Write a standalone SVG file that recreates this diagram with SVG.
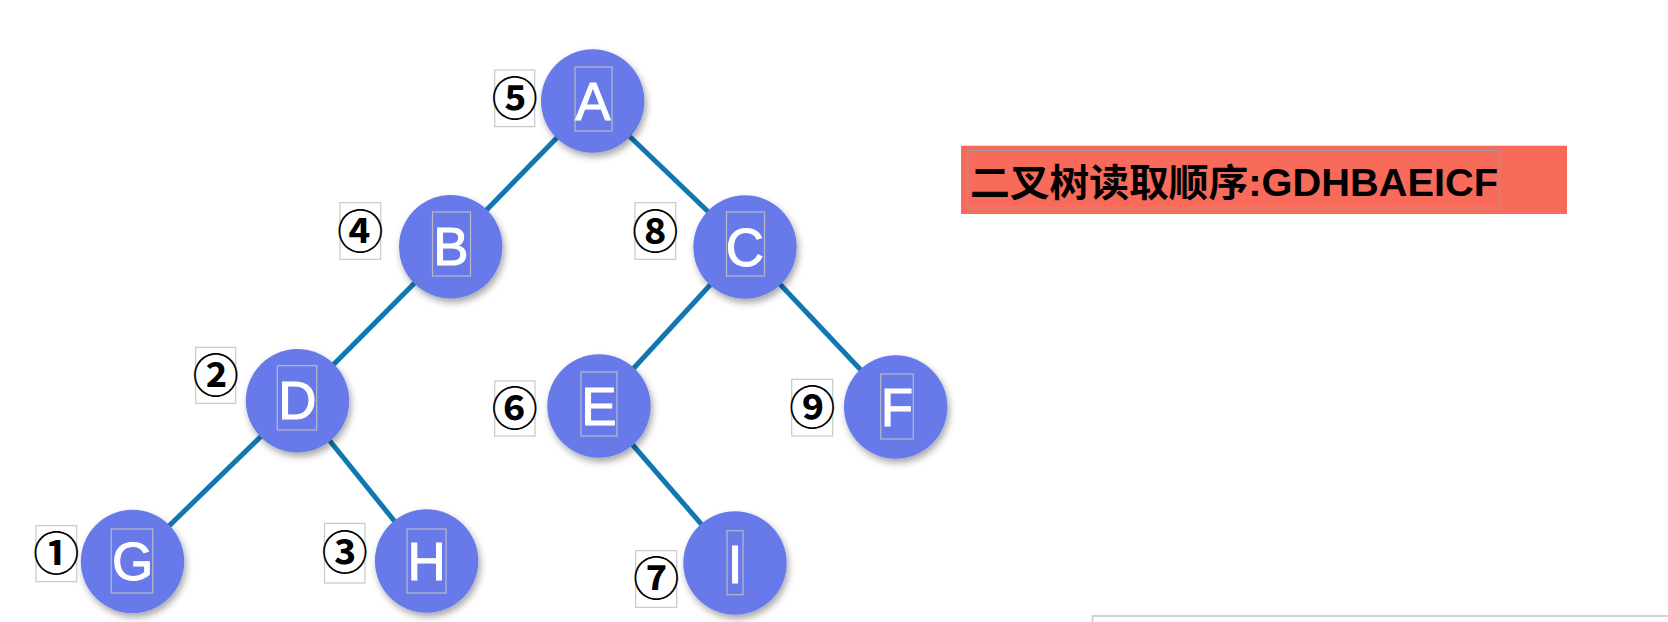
<svg xmlns="http://www.w3.org/2000/svg" width="1668" height="622" viewBox="0 0 1668 622">
<defs>
<filter id="sh" x="-30%" y="-30%" width="160%" height="160%">
<feDropShadow dx="2" dy="4" stdDeviation="3.5" flood-color="#000" flood-opacity="0.35"/>
</filter>
</defs>
<style>
.edge{stroke:#1177B2;stroke-width:5;fill:none}
.node circle{fill:#677AE9;filter:url(#sh)}
.tbox{fill:none;stroke:#b8b8c8;stroke-width:1.2}
.letter{font-family:"Liberation Sans",Arial,sans-serif;font-size:53px;fill:#fff;text-anchor:middle;stroke:#fff;stroke-width:1}
.lbox{fill:#fff;stroke:#c8c8c8;stroke-width:1.2}
.num{font-family:"Noto Sans CJK SC","DejaVu Sans",sans-serif;font-size:46px;font-weight:bold;fill:#000;text-anchor:middle}
.title{font-family:"Liberation Sans","Noto Sans CJK SC",sans-serif;font-weight:bold;font-size:38px;fill:#000}
</style>
<rect width="1668" height="622" fill="#fff"/>
<g id="connectors">
<line class="edge" x1="592.7" y1="101" x2="450.7" y2="246.7"/>
<line class="edge" x1="592.7" y1="101" x2="745" y2="247"/>
<line class="edge" x1="450.7" y1="246.7" x2="297.5" y2="400.8"/>
<line class="edge" x1="745" y1="247" x2="599" y2="406"/>
<line class="edge" x1="745" y1="247" x2="895.7" y2="407"/>
<line class="edge" x1="297.5" y1="400.8" x2="132.5" y2="561.5"/>
<line class="edge" x1="297.5" y1="400.8" x2="426.6" y2="561"/>
<line class="edge" x1="599" y1="406" x2="735" y2="563"/>
</g>
<g id="node-A" class="node">
<circle cx="592.7" cy="101" r="51.7"/>
<rect class="tbox" x="575" y="67" width="37" height="64"/>
<text class="letter" x="593" y="120">A</text>
<rect class="lbox" x="494.7" y="70" width="40" height="56.6"/>
<text class="num" x="514.7" y="115">⑤</text>
</g>
<g id="node-B" class="node">
<circle cx="450.7" cy="246.7" r="51.7"/>
<rect class="tbox" x="432.5" y="212" width="38" height="64"/>
<text class="letter" x="451" y="265">B</text>
<rect class="lbox" x="340" y="202.7" width="40.7" height="56.6"/>
<text class="num" x="360.3" y="248">④</text>
</g>
<g id="node-C" class="node">
<circle cx="745" cy="247" r="51.7"/>
<rect class="tbox" x="726.5" y="212" width="38" height="64"/>
<text class="letter" x="745" y="265.5">C</text>
<rect class="lbox" x="635" y="202.7" width="40.7" height="56.6"/>
<text class="num" x="655.3" y="248">⑧</text>
</g>
<g id="node-D" class="node">
<circle cx="297.5" cy="400.8" r="51.7"/>
<rect class="tbox" x="277.3" y="365.7" width="39.4" height="64.3"/>
<text class="letter" x="297.5" y="419">D</text>
<rect class="lbox" x="195.7" y="347.3" width="40" height="56"/>
<text class="num" x="215.7" y="392">②</text>
</g>
<g id="node-E" class="node">
<circle cx="599" cy="406" r="51.7"/>
<rect class="tbox" x="581" y="372" width="36" height="64"/>
<text class="letter" x="599" y="425">E</text>
<rect class="lbox" x="494.7" y="381" width="40.3" height="55"/>
<text class="num" x="514.8" y="425">⑥</text>
</g>
<g id="node-F" class="node">
<circle cx="895.7" cy="407" r="51.7"/>
<rect class="tbox" x="880.7" y="374" width="32.6" height="65"/>
<text class="letter" x="897" y="425.5">F</text>
<rect class="lbox" x="791.7" y="379.3" width="41" height="56.7"/>
<text class="num" x="812.2" y="424">⑨</text>
</g>
<g id="node-G" class="node">
<circle cx="132.5" cy="561.5" r="51.7"/>
<rect class="tbox" x="111.3" y="529" width="41.4" height="64"/>
<text class="letter" x="132.5" y="580">G</text>
<rect class="lbox" x="36" y="525.7" width="40.7" height="56"/>
<text class="num" x="56.3" y="570">①</text>
</g>
<g id="node-H" class="node">
<circle cx="426.6" cy="561" r="51.7"/>
<rect class="tbox" x="407" y="529" width="39" height="64"/>
<text class="letter" x="426.6" y="580">H</text>
<rect class="lbox" x="324.5" y="523.4" width="40.5" height="59.6"/>
<text class="num" x="344.7" y="569">③</text>
</g>
<g id="node-I" class="node">
<circle cx="735" cy="563" r="51.7"/>
<rect class="tbox" x="727" y="530.7" width="16" height="64"/>
<text class="letter" x="735" y="583">I</text>
<rect class="lbox" x="635.7" y="550.7" width="41" height="56.6"/>
<text class="num" x="656.2" y="595">⑦</text>
</g>
<g id="title">
<rect x="961" y="145.7" width="606" height="68.3" fill="#F86A5A"/>
<rect x="967.7" y="150.7" width="531.6" height="57" fill="none" stroke="#9a9a9a" stroke-width="1.2"/>
<text class="title" x="970" y="196" textLength="528" lengthAdjust="spacingAndGlyphs">二叉树读取顺序:GDHBAEICF</text>
</g>
<g id="bottom-box">
<rect x="1092.5" y="616" width="600" height="30" fill="#fff" stroke="#c4c4c4" stroke-width="1.5"/>
</g>
</svg>
